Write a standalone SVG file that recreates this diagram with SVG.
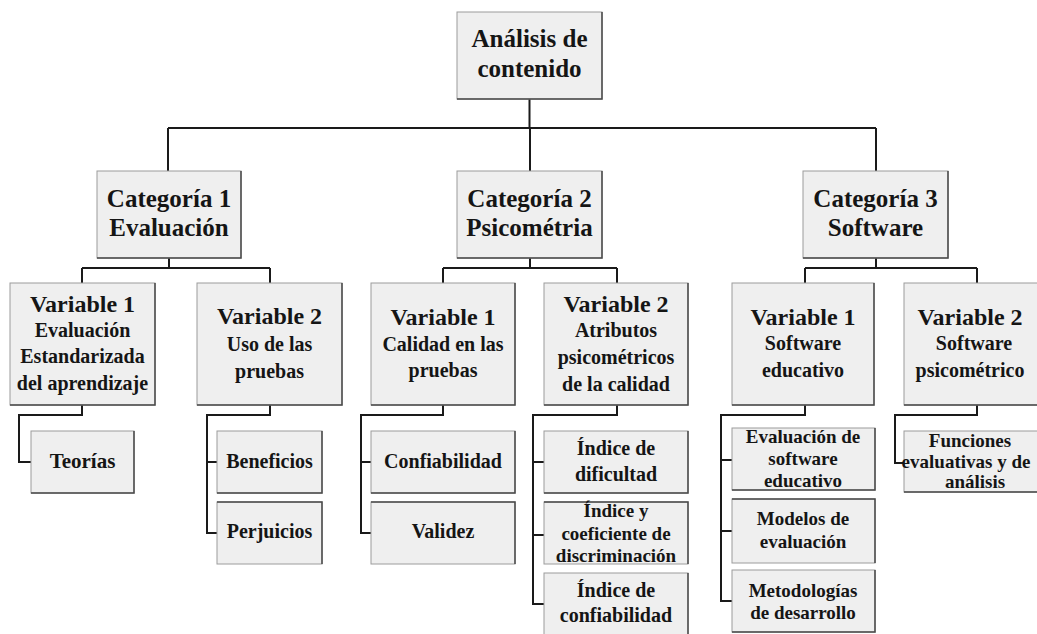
<svg xmlns="http://www.w3.org/2000/svg" width="1037" height="634" viewBox="0 0 1037 634">
<style>
.box{fill:#efefef;stroke:#9c9c9c;stroke-width:1}
.edge{fill:none;stroke:#4a4a4a;stroke-width:1.5}
.conn{fill:none;stroke:#1a1a1a;stroke-width:2}
text{font-family:"Liberation Serif","Times New Roman",serif;font-weight:bold;fill:#151515;text-anchor:middle}
.t25{font-size:25px}
.t24{font-size:24px}
.t20{font-size:20px}
.t19{font-size:19px}
</style>
<rect width="1037" height="634" fill="#ffffff"/>
<g id="connectors" class="conn">
<path d="M529.5,99 V128 M168,128 H876 M168,128 V171 M530,128 V171 M876,128 V171"/>
<path d="M169,258 V268 M82,268 H270 M82,268 V283 M270,268 V283"/>
<path d="M530,258 V268 M443,268 H617 M443,268 V283 M617,268 V283"/>
<path d="M876,258 V268 M805,268 H977 M805,268 V283 M977,268 V283"/>
<path d="M82,405 V415 H19 V462 H31"/>
<path d="M270,405 V415 H207 V533 H217 M207,462 H217"/>
<path d="M443,405 V415 H361 V533 H371 M361,462 H371"/>
<path d="M617,405 V415 H533 V604 H544 M533,462 H544 M533,535 H544"/>
<path d="M805,405 V415 H721 V601 H732 M721,460 H732 M721,531 H732"/>
<path d="M977,405 V415 H895 V463 H904"/>
</g>
<g id="root">
<rect class="box" x="457" y="12" width="145" height="87"/><path class="edge" d="M602,12 V99 H457"/>
<text class="t25" x="529.5" y="47">Análisis de</text><text class="t25" x="529.5" y="77">contenido</text>
</g>
<g id="cat1">
<rect class="box" x="97" y="171" width="144" height="87"/><path class="edge" d="M241,171 V258 H97"/>
<text class="t25" x="169" y="207">Categoría 1</text><text class="t25" x="169" y="236">Evaluación</text>
</g>
<g id="cat2">
<rect class="box" x="457" y="171" width="145" height="87"/><path class="edge" d="M602,171 V258 H457"/>
<text class="t25" x="529.5" y="207">Categoría 2</text><text class="t25" x="529.5" y="236">Psicométria</text>
</g>
<g id="cat3">
<rect class="box" x="803" y="171" width="145" height="87"/><path class="edge" d="M948,171 V258 H803"/>
<text class="t25" x="875.5" y="207">Categoría 3</text><text class="t25" x="875.5" y="236">Software</text>
</g>
<g id="c1v1">
<rect class="box" x="10" y="283" width="145" height="122"/><path class="edge" d="M155,283 V405 H10"/>
<text class="t24" x="82.5" y="312">Variable 1</text>
<text class="t20" x="82.5" y="337">Evaluación</text><text class="t20" x="82.5" y="363">Estandarizada</text><text class="t20" x="82.5" y="390">del aprendizaje</text>
</g>
<g id="c1v2">
<rect class="box" x="197" y="283" width="145" height="122"/><path class="edge" d="M342,283 V405 H197"/>
<text class="t24" x="269.5" y="324">Variable 2</text>
<text class="t20" x="269.5" y="351">Uso de las</text><text class="t20" x="269.5" y="378">pruebas</text>
</g>
<g id="c2v1">
<rect class="box" x="371" y="283" width="144" height="122"/><path class="edge" d="M515,283 V405 H371"/>
<text class="t24" x="443" y="325">Variable 1</text>
<text class="t20" x="443" y="351">Calidad en las</text><text class="t20" x="443" y="377">pruebas</text>
</g>
<g id="c2v2">
<rect class="box" x="544" y="283" width="144" height="122"/><path class="edge" d="M688,283 V405 H544"/>
<text class="t24" x="616" y="312">Variable 2</text>
<text class="t20" x="616" y="337">Atributos</text><text class="t20" x="616" y="364">psicométricos</text><text class="t20" x="616" y="391">de la calidad</text>
</g>
<g id="c3v1">
<rect class="box" x="732" y="283" width="142" height="122"/><path class="edge" d="M874,283 V405 H732"/>
<text class="t24" x="803" y="325">Variable 1</text>
<text class="t20" x="803" y="350">Software</text><text class="t20" x="803" y="377">educativo</text>
</g>
<g id="c3v2">
<rect class="box" x="904" y="283" width="150" height="122"/><path class="edge" d="M1054,283 V405 H904"/>
<text class="t24" x="970" y="325">Variable 2</text>
<text class="t20" x="974" y="350">Software</text><text class="t20" x="970" y="377">psicométrico</text>
</g>
<g id="teorias">
<rect class="box" x="31" y="431" width="103" height="62"/><path class="edge" d="M134,431 V493 H31"/>
<text class="t20" x="82.5" y="468" style="font-size:21px">Teorías</text>
</g>
<g id="beneficios">
<rect class="box" x="217" y="431" width="105" height="62"/><path class="edge" d="M322,431 V493 H217"/>
<text class="t20" x="269.5" y="468">Beneficios</text>
</g>
<g id="perjuicios">
<rect class="box" x="217" y="502" width="105" height="62"/><path class="edge" d="M217,502 H322 V564"/>
<text class="t20" x="269.5" y="538">Perjuicios</text>
</g>
<g id="confiabilidad">
<rect class="box" x="371" y="431" width="144" height="62"/><path class="edge" d="M515,431 V493 H371"/>
<text class="t20" x="443" y="468">Confiabilidad</text>
</g>
<g id="validez">
<rect class="box" x="371" y="502" width="144" height="62"/><path class="edge" d="M371,502 H515 V564"/>
<text class="t20" x="443" y="538">Validez</text>
</g>
<g id="dificultad">
<rect class="box" x="544" y="431" width="144" height="62"/><path class="edge" d="M688,431 V493 H544"/>
<text class="t20" x="616" y="455">Índice de</text><text class="t20" x="616" y="481">dificultad</text>
</g>
<g id="discriminacion">
<rect class="box" x="544" y="502" width="144" height="62"/><path class="edge" d="M544,502 H688 V564"/>
<text class="t19" x="616" y="517">Índice y</text><text class="t19" x="616" y="540">coeficiente de</text><text class="t19" x="616" y="562">discriminación</text>
</g>
<g id="confiab-indice">
<rect class="box" x="544" y="573" width="144" height="70"/><path class="edge" d="M688,573 V643"/>
<text class="t20" x="616" y="597">Índice de</text><text class="t20" x="616" y="622">confiabilidad</text>
</g>
<g id="eval-software">
<rect class="box" x="732" y="428" width="143" height="62"/><path class="edge" d="M875,428 V490 H732"/>
<text class="t19" x="803" y="443">Evaluación de</text><text class="t19" x="803" y="465">software</text><text class="t19" x="803" y="487">educativo</text>
</g>
<g id="modelos">
<rect class="box" x="732" y="499" width="143" height="64"/><path class="edge" d="M732,499 H875 V563"/>
<text class="t19" x="803" y="525">Modelos de</text><text class="t19" x="803" y="548">evaluación</text>
</g>
<g id="metodologias">
<rect class="box" x="732" y="570" width="143" height="62"/><path class="edge" d="M875,570 V632 H732"/>
<text class="t19" x="803" y="597">Metodologías</text><text class="t19" x="803" y="619">de desarrollo</text>
</g>
<g id="funciones">
<rect class="box" x="904" y="431" width="150" height="61"/><path class="edge" d="M1054,431 V492 H904"/>
<text class="t19" x="970" y="447">Funciones</text><text class="t19" x="966" y="468">evaluativas y de</text><text class="t19" x="975" y="488">análisis</text>
</g>
</svg>
